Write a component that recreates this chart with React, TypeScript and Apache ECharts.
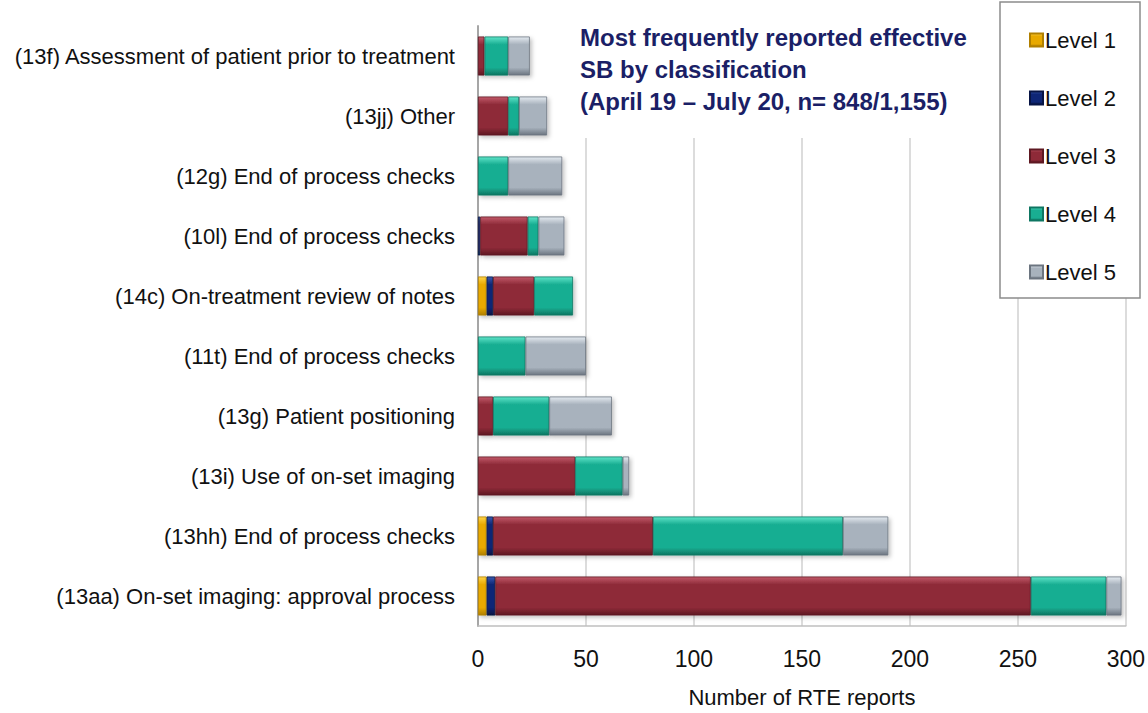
import React, { useEffect, useRef } from "react";
import * as echarts from "echarts";

const categories = [
  "(13f) Assessment of patient prior to treatment",
  "(13jj) Other",
  "(12g) End of process checks",
  "(10l) End of process checks",
  "(14c) On-treatment review of notes",
  "(11t) End of process checks",
  "(13g) Patient positioning",
  "(13i) Use of on-set imaging",
  "(13hh) End of process checks",
  "(13aa) On-set imaging: approval process",
];

const level1 = [0, 0, 0, 0, 4, 0, 0, 0, 4, 4];
const level2 = [0, 0, 0, 1, 3, 0, 0, 0, 3, 4];
const level3 = [3, 14, 0, 22, 19, 0, 7, 45, 74, 248];
const level4 = [11, 5, 14, 5, 18, 22, 26, 22, 88, 35];
const level5 = [10, 13, 25, 12, 0, 28, 29, 3, 21, 7];

const seriesNames = ["Level 1", "Level 2", "Level 3", "Level 4", "Level 5"];
const seriesData = [level1, level2, level3, level4, level5];

const xTicks = { min: 0, max: 300, interval: 50 };

const palette = [
  { light: "#FFD54A", main: "#E8A900", dark: "#B07F00" },
  { light: "#3A5AB0", main: "#0E2676", dark: "#071444" },
  { light: "#C25A6A", main: "#8E2A38", dark: "#5E1822" },
  { light: "#5FE3C8", main: "#19AE92", dark: "#0E7662" },
  { light: "#E4EAF0", main: "#A8B2BD", dark: "#6C7580" },
];

const titleLines = [
  "Most frequently reported effective",
  "SB by classification",
  "(April 19 \u2013 July 20, n= 848/1,155)",
];

export default function App() {
  const ref = useRef<HTMLDivElement>(null);
  useEffect(() => {
    if (!ref.current) return;
    const chart = echarts.init(ref.current, null, { renderer: "svg" });
    const series = seriesNames.map((name, i) => ({
      name,
      type: "bar",
      stack: "total",
      barWidth: 39,
      data: seriesData[i],
      itemStyle: {
        color: new echarts.graphic.LinearGradient(0, 0, 0, 1, [
          { offset: 0, color: palette[i].light },
          { offset: 0.2, color: palette[i].main },
          { offset: 0.8, color: palette[i].main },
          { offset: 1, color: palette[i].dark },
        ]),
        borderColor: palette[i].dark,
        borderWidth: 0.8,
        shadowBlur: 4,
        shadowColor: "rgba(0,0,0,0.25)",
        shadowOffsetX: 2,
        shadowOffsetY: 2,
      },
    }));
    chart.setOption({
      animation: false,
      backgroundColor: "#ffffff",
      grid: { left: 478, right: 22, top: 26, bottom: 81, containLabel: false },
      xAxis: {
        type: "value",
        min: xTicks.min,
        max: xTicks.max,
        interval: xTicks.interval,
        name: "Number of RTE reports",
        nameLocation: "middle",
        nameGap: 60,
        nameTextStyle: { fontSize: 22, color: "#111", fontFamily: "Liberation Sans" },
        axisLine: { show: true, lineStyle: { color: "#bfbfbf", width: 1.5 } },
        axisTick: { show: false },
        axisLabel: { fontSize: 23, color: "#111", margin: 21, fontFamily: "Liberation Sans" },
        splitLine: { show: true, lineStyle: { color: "#d0d0d0", width: 1.5 } },
      },
      yAxis: {
        type: "category",
        data: categories,
        inverse: true,
        axisLine: { show: true, lineStyle: { color: "#a6a6a6", width: 2 } },
        axisTick: { show: false },
        axisLabel: { fontSize: 22, color: "#111", margin: 23, fontFamily: "Liberation Sans" },
      },
      legend: {
        orient: "vertical",
        left: 1024,
        top: 24,
        itemWidth: 13,
        itemHeight: 13,
        itemGap: 36,
        icon: "rect",
        z: 6,
        textStyle: { fontSize: 22, color: "#111", fontFamily: "Liberation Sans", padding: [0, 0, 0, -3] },
        data: seriesNames,
      },
      graphic: [
        {
          type: "rect",
          z: 4,
          shape: { x: 570, y: 0, width: 420, height: 138 },
          style: { fill: "#ffffff" },
        },
        {
          type: "rect",
          z: 4,
          shape: { x: 1000, y: 2, width: 140, height: 296 },
          style: { fill: "#ffffff", stroke: "#8c8c8c", lineWidth: 1.5 },
        },
        ...titleLines.map((t, i) => ({
          type: "text",
          z: 7,
          x: 580,
          y: 25 + i * 32,
          style: {
            text: t,
            fill: "#1B1F66",
            font: "bold 24px 'Liberation Sans'",
          },
        })),
      ],
      series,
    });
    return () => chart.dispose();
  }, []);
  return (
    <div
      ref={ref}
      style={{ position: "absolute", left: 0, top: 0, width: 1148, height: 713 }}
    />
  );
}
